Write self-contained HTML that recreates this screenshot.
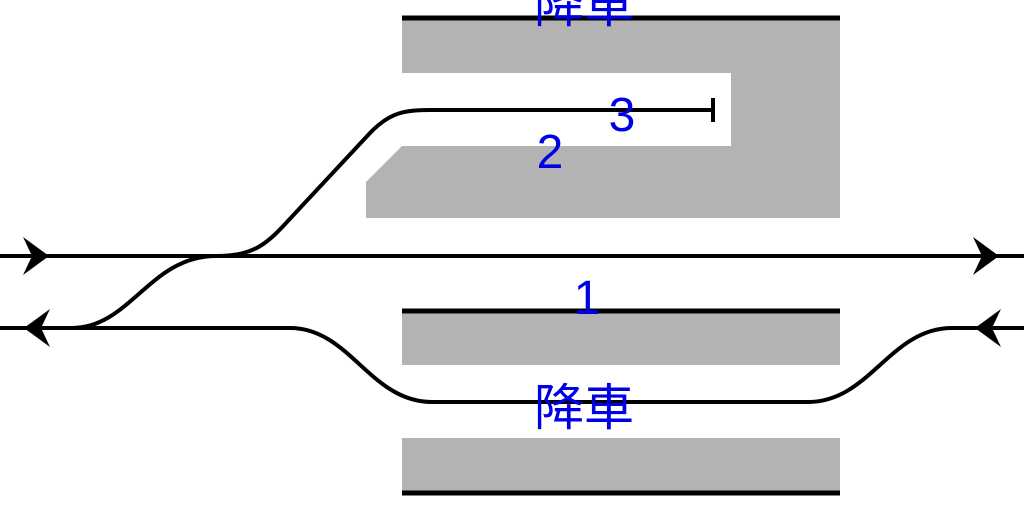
<!DOCTYPE html>
<html><head><meta charset="utf-8"><style>
html,body{margin:0;padding:0;background:#fff;}
svg{display:block;}
text{font-family:"Liberation Sans","Noto Sans CJK TC","DejaVu Sans",sans-serif;fill:#0000e6;}
</style></head><body>
<svg width="1024" height="512" viewBox="0 0 1024 512" xmlns="http://www.w3.org/2000/svg">
<path d="M402 18 H840 V218 H366 V182 L402 146 H731 V73 H402 Z" fill="#b3b3b3"/>
<rect x="402" y="311" width="438" height="54" fill="#b3b3b3"/>
<rect x="402" y="438" width="438" height="55" fill="#b3b3b3"/>
<g stroke="#000" stroke-width="5" fill="none">
<line x1="402" y1="18" x2="840" y2="18"/>
<line x1="402" y1="311" x2="840" y2="311"/>
<line x1="402" y1="493" x2="840" y2="493"/>
</g>
<g stroke="#000" stroke-width="4" fill="none">
<line x1="0" y1="256" x2="1024" y2="256"/>
<path d="M0 328 H290 C350 328 370 402 432 402 H808 C870 402 890 328 952 328 H1024"/>
<path d="M72 328 C130 328 150 256 216 256"/>
<path d="M216 256 C260 256 270 240 300 208 L370 133 C390 112 405 110 432 110 H713"/>
<line x1="713" y1="98" x2="713" y2="122"/>
</g>
<g fill="#000">
<path d="M49 256 L23 237 L32 256 L23 275 Z"/>
<path d="M999 256 L973 237 L982 256 L973 275 Z"/>
<path d="M24 328 L50 309 L41 328 L50 347 Z"/>
<path d="M975 328 L1001 309 L992 328 L1001 347 Z"/>
</g>
<text x="584" y="22" font-size="50" text-anchor="middle">降車</text>
<text x="622" y="131" font-size="48" text-anchor="middle">3</text>
<text x="550" y="168" font-size="48" text-anchor="middle">2</text>
<text x="587" y="314" font-size="48" text-anchor="middle">1</text>
<text x="584" y="425" font-size="50" text-anchor="middle">降車</text>
</svg>
</body></html>
